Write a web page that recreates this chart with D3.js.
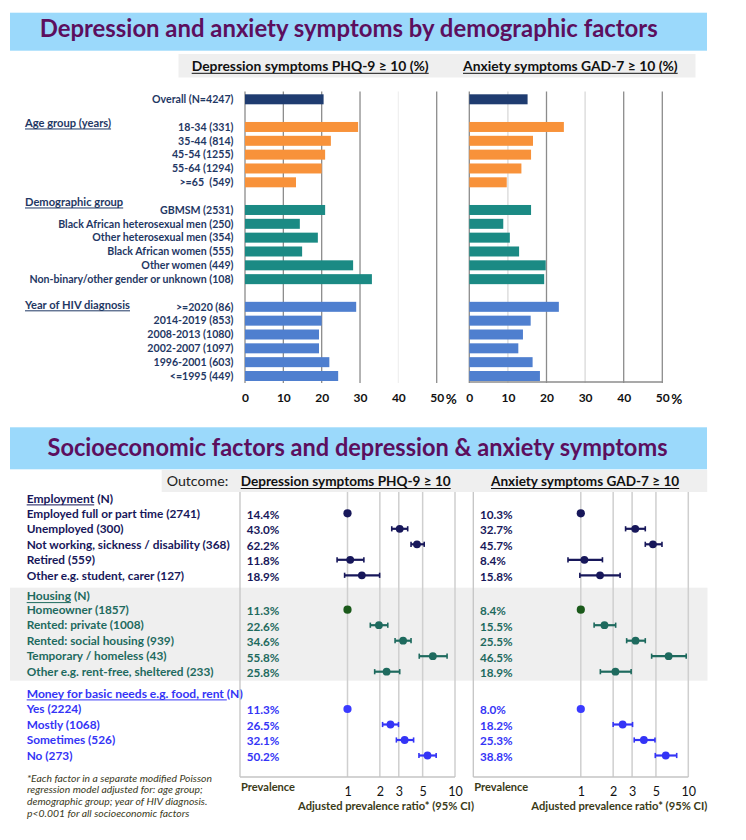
<!DOCTYPE html>
<html><head><meta charset="utf-8">
<script src="https://cdn.jsdelivr.net/npm/d3@7"></script>
<style>body{margin:0;background:#fff}svg{display:block}</style>
</head><body>
<svg id="c" width="746" height="840"></svg>
<script>
// ---------------- DATA ----------------
const barLabels = ["Overall (N=4247)","18-34 (331)","35-44 (814)","45-54 (1255)","55-64 (1294)",">=65  (549)",
  "GBMSM (2531)","Black African heterosexual men (250)","Other heterosexual men (354)","Black African women (555)","Other women (449)","Non-binary/other gender or unknown (108)",
  ">=2020 (86)","2014-2019 (853)","2008-2013 (1080)","2002-2007 (1097)","1996-2001 (603)","<=1995 (449)"];
const barGroup = ["Overall","Age","Age","Age","Age","Age","Demo","Demo","Demo","Demo","Demo","Demo","Year","Year","Year","Year","Year","Year"];
const depressionPct = [20.5,29.5,22.4,20.9,20.0,13.3,20.9,14.3,19.0,14.9,28.2,33.1,29.0,20.0,19.3,19.3,22.0,24.3];
const anxietyPct = [15.1,24.5,16.5,16.0,13.5,9.7,16.0,8.8,10.5,12.9,19.8,19.4,23.2,15.9,13.9,12.7,16.4,18.3];
const barGroupHeaders = ["Age group (years)","Demographic group","Year of HIV diagnosis"];
const barTicks = [0,10,20,30,40,50];

const forestLabels = ["Employed full or part time (2741)","Unemployed (300)","Not working, sickness / disability (368)","Retired (559)","Other e.g. student, carer (127)",
  "Homeowner (1857)","Rented: private (1008)","Rented: social housing (939)","Temporary / homeless (43)","Other e.g. rent-free, sheltered (233)",
  "Yes (2224)","Mostly (1068)","Sometimes (526)","No (273)"];
const forestGroup = ["Employment","Employment","Employment","Employment","Employment","Housing","Housing","Housing","Housing","Housing","Money","Money","Money","Money"];
const forestHeaders = [["Employment"," (N)"],["Housing"," (N)"],["Money for basic needs e.g. food, rent ","(N)"]];
const depPrevalence = [14.4,43.0,62.2,11.8,18.9,11.3,22.6,34.6,55.8,25.8,11.3,26.5,32.1,50.2];
const anxPrevalence = [10.3,32.7,45.7,8.4,15.8,8.4,15.5,25.5,46.5,18.9,8.0,18.2,25.3,38.8];
const depPR = [1,3.06,4.43,1.06,1.36,1,1.96,3.29,6.22,2.31,1,2.51,3.40,5.55];
const depLo = [null,2.58,3.90,0.80,0.94,null,1.63,2.77,4.65,1.79,null,2.12,2.85,4.62];
const depHi = [null,3.63,5.17,1.42,1.99,null,2.37,3.90,8.44,3.06,null,2.98,4.12,6.68];
const anxPR = [1,3.21,4.69,1.08,1.51,1,1.66,3.23,6.56,2.10,1,2.45,3.86,6.17];
const anxLo = [null,2.61,3.98,0.76,0.98,null,1.33,2.67,4.56,1.52,null,2.00,3.14,4.93];
const anxHi = [null,3.98,5.69,1.59,2.32,null,2.11,3.98,9.56,2.94,null,3.03,4.90,7.80];
const forestTicks = [1,2,3,5,10];
const footnote = ["*Each factor in a separate modified Poisson","regression model adjusted for: age group;","demographic group; year of HIV diagnosis.","p<0.001 for all socioeconomic factors"];

// ---------------- STYLE ----------------
const FONT = "Lato, 'Open Sans', sans-serif";
const svg = d3.select("#c").style("font-family", FONT);
const barColors = {Overall:"#1f3c70", Age:"#f8923a", Demo:"#1b8a84", Year:"#4f7fcf"};
const forestColors = {Employment:"#17175a", Housing:"#1e6a5e", Money:"#3434f6"};
const refColors = {Employment:"#17175a", Housing:"#1b5a1b", Money:"#3a3aff"};
const purple = "#5c0f5e", navy = "#1f3864", olive = "#3b3b18";

function styled(sel, st) {
  return sel.attr("font-size", st.size).attr("font-weight", st.weight || "normal")
    .attr("font-style", st.style || "normal").attr("font-family", FONT).style("white-space", "pre");
}
function kFor(st, sample, target) {
  const t = styled(svg.append("text").text(sample), st);
  const w = t.node().getComputedTextLength(); t.remove();
  return target / w;
}
function addText(g, x, y, str, st, k, fill, anchor) {
  const t = styled(g.append("text").attr("x", x).attr("y", y).text(str), st)
    .attr("fill", fill).attr("text-anchor", anchor || "start");
  const w0 = t.node().getComputedTextLength();
  const w = w0 * k;
  t.attr("textLength", w).attr("lengthAdjust", "spacingAndGlyphs");
  const x0 = anchor === "middle" ? x - w / 2 : anchor === "end" ? x - w : x;
  return {x0: x0, x1: x0 + w, node: t};
}
function underline(g, b, y, fill, w) {
  g.append("line").attr("x1", b.x0).attr("x2", b.x1).attr("y1", y).attr("y2", y)
    .attr("stroke", fill).attr("stroke-width", w || 1);
}

// text classes (size + width calibration to the reference)
const stTitle = {size: 24, weight: "bold"};
const kTitle1 = kFor(stTitle, "Depression and anxiety symptoms by demographic factors", 618);
const kTitle2 = kFor(stTitle, "Socioeconomic factors and depression & anxiety symptoms", 620);
const stHead = {size: 12.5, weight: "bold"};
const kHead = kFor(stHead, "Depression symptoms PHQ-9 \u2265 10 (%)", 237);
const kHead2 = kFor(stHead, "Depression symptoms PHQ-9 \u2265 10", 210);
const stOutcome = {size: 12.5};
const kOutcome = kFor(stOutcome, "Outcome:", 61.5);
const stBarLab = {size: 10.4, weight: "bold"};
const kBarLab = kFor(stBarLab, "Non-binary/other gender or unknown (108)", 204);
const stBarHdr = {size: 10.8, weight: "bold"};
const kBarHdr = kFor(stBarHdr, "Year of HIV diagnosis", 105);
const stFLab = {size: 11.8, weight: "bold"};
const kFLab = kFor(stFLab, "Not working, sickness / disability (368)", 203);
const kFHdr = kFor(stFLab, "Money for basic needs e.g. food, rent (N)", 216);
const stPrev = {size: 11.8, weight: "bold"};
const kPrev = kFor(stPrev, "14.4%", 32.7);
const stFoot = {size: 9.6, style: "italic"};
const kFoot = kFor(stFoot, footnote[0], 185);
const stAxT = {size: 11.6, weight: "bold"};
const kPrevTitle = kFor(stAxT, "Prevalence", 54);
const kAdj = kFor(stAxT, "Adjusted prevalence ratio* (95% CI)", 176);

// ---------------- TOP SECTION ----------------
svg.append("rect").attr("x",10).attr("y",12.7).attr("width",697).attr("height",38).attr("fill","#9bd9fb");
addText(svg, 348.7, 36.5, "Depression and anxiety symptoms by demographic factors", stTitle, kTitle1, purple, "middle");
svg.append("rect").attr("x",178.5).attr("y",54).attr("width",517).attr("height",23.5).attr("fill","#efefef");
let b = addText(svg, 191.7, 70.5, "Depression symptoms PHQ-9 \u2265 10 (%)", stHead, kHead, "#111");
underline(svg, b, 73.3, "#111");
b = addText(svg, 463, 70.5, "Anxiety symptoms GAD-7 \u2265 10 (%)", stHead, kHead, "#111");
underline(svg, b, 73.3, "#111");

// slots
const slots = []; let s = 0;
barGroup.forEach((gname, i) => { if (i > 0) s += (gname !== barGroup[i-1]) ? 2 : 1; slots.push(s); });
const yBar = d3.scaleLinear().domain([0, 20]).range([99.3, 376]);
const barH = 10;

// labels
const gl = svg.append("g");
barLabels.forEach((d, i) => addText(gl, 233.5, yBar(slots[i]) + 3.7, d, stBarLab, kBarLab, navy, "end"));
const hdrGroups = ["Age","Demo","Year"];
const hdrOffsets = [-4, -8, -2];
hdrGroups.forEach((gname, k) => {
  const first = barGroup.indexOf(gname);
  const yy = yBar(slots[first]) + hdrOffsets[k] + 3.7;
  const bb = addText(gl, 25, yy, barGroupHeaders[k], stBarHdr, kBarHdr, navy);
  underline(gl, bb, yy + 2.3, navy);
});

function barPanel(x0, x1, values, opts) {
  const x = d3.scaleLinear().domain([0, 50]).range([x0, x1]);
  const g = svg.append("g");
  barTicks.slice(1).forEach((t, k) => {
    g.append("line").attr("x1", x(t)).attr("x2", x(t)).attr("y1", 91.5).attr("y2", 383)
      .attr("stroke", opts.gridColor[k]).attr("stroke-width", 1.3);
  });
  g.append("line").attr("x1", x(0)).attr("x2", x(0)).attr("y1", 91.5).attr("y2", 383).attr("stroke", "#8c8c8c").attr("stroke-width", 1.3);
  if (opts.bottom) g.append("line").attr("x1", x(0)).attr("x2", x(50)).attr("y1", 382).attr("y2", 382).attr("stroke", "#8c8c8c").attr("stroke-width", 1.3);
  g.selectAll("rect.bar").data(values).join("rect").attr("class","bar")
    .attr("x", x(0)).attr("y", (d,i) => yBar(slots[i]) - barH/2)
    .attr("width", d => x(d) - x(0)).attr("height", barH)
    .attr("fill", (d,i) => barColors[barGroup[i]]);
  const ax = g.append("g").attr("transform", "translate(0,390.5)")
    .call(d3.axisBottom(x).tickValues(barTicks).tickSize(0).tickFormat(d3.format("d")));
  ax.select(".domain").remove();
  ax.selectAll("text").attr("font-size", 12).attr("font-weight", "bold").attr("fill", "#111").attr("font-family", FONT);
  g.append("text").attr("x", x(50) + 9).attr("y", 403.5).attr("font-size", 13.5).attr("font-weight","bold").attr("fill","#111").attr("font-family", FONT).text("%");
}
barPanel(245, 436.7, depressionPct, {gridColor:["#8c8c8c","#8c8c8c","#8c8c8c","#f0f0f0","#8c8c8c"], bottom:false});
barPanel(469.3, 662.3, anxietyPct, {gridColor:["#d9d9d9","#8c8c8c","#d9d9d9","#8c8c8c","#8c8c8c"], bottom:true});

// ---------------- BOTTOM SECTION ----------------
svg.append("rect").attr("x",10).attr("y",427.3).attr("width",697).attr("height",42).attr("fill","#9bd9fb");
addText(svg, 357.5, 456, "Socioeconomic factors and depression & anxiety symptoms", stTitle, kTitle2, purple, "middle");
svg.append("rect").attr("x",161.7).attr("y",470).attr("width",545.5).attr("height",22).attr("fill","#efefef");
addText(svg, 166.7, 485.7, "Outcome:", stOutcome, kOutcome, "#222");
b = addText(svg, 240.7, 485.7, "Depression symptoms PHQ-9 \u2265 10", stHead, kHead2, "#111");
underline(svg, b, 488.5, "#111");
b = addText(svg, 491, 485.7, "Anxiety symptoms GAD-7 \u2265 10", stHead, kHead2, "#111");
underline(svg, b, 488.5, "#111");

// row positions
const groupStartY = {Employment:513.3, Housing:609.7, Money:709};
const rowStep = 15.5;
const groupIdx = {};
const yF = forestGroup.map((gname) => { groupIdx[gname] = (groupIdx[gname] === undefined) ? 0 : groupIdx[gname] + 1; return groupStartY[gname] + groupIdx[gname]*rowStep; });
svg.append("rect").attr("x",10).attr("y",587.7).attr("width",697.5).attr("height",93).attr("fill","#efefef");

// left labels
const fl = svg.append("g");
forestLabels.forEach((d, i) => addText(fl, 26.7, yF[i] + 4.2, d, stFLab, kFLab, forestColors[forestGroup[i]]));
const hdrY = {Employment:498.3, Housing:596, Money:693.3};
["Employment","Housing","Money"].forEach((gname,k) => {
  const yy = hdrY[gname] + 4.2;
  const bb = addText(fl, 26.7, yy, forestHeaders[k][0], stFLab, kFHdr, forestColors[gname]);
  underline(fl, bb, yy + 2.4, forestColors[gname]);
  addText(fl, bb.x1, yy, forestHeaders[k][1], stFLab, kFHdr, forestColors[gname]);
});

// footnote
const gfoot = svg.append("g");
footnote.forEach((d, i) => addText(gfoot, 27, 781.5 + i*11.7, d, stFoot, kFoot, "#3a3a22"));

function forestPanel(x0, x1, prev, pr, lo, hi) {
  const x = d3.scaleLog().domain([0.1, 10]).range([x0, x1]);
  const g = svg.append("g");
  forestTicks.forEach(t => g.append("line").attr("x1",x(t)).attr("x2",x(t)).attr("y1",492).attr("y2",777)
    .attr("stroke","#cfcfcf").attr("stroke-width",1.5));
  g.append("line").attr("x1",x0).attr("x2",x0).attr("y1",492).attr("y2",777).attr("stroke","#c4c4c4").attr("stroke-width",1.3);
  g.append("line").attr("x1",x0).attr("x2",x1).attr("y1",777).attr("y2",777).attr("stroke","#c4c4c4").attr("stroke-width",1.3);
  prev.forEach((d, i) => addText(g, x0 + 6.7, yF[i] + 5.4, d.toFixed(1) + "%", stPrev, kPrev, forestColors[forestGroup[i]]));
  pr.forEach((v,i) => {
    const c = forestColors[forestGroup[i]];
    if (lo[i] != null) {
      g.append("line").attr("x1",x(lo[i])).attr("x2",x(hi[i])).attr("y1",yF[i]).attr("y2",yF[i]).attr("stroke",c).attr("stroke-width",2.2);
      [lo[i],hi[i]].forEach(e => g.append("line").attr("x1",x(e)).attr("x2",x(e)).attr("y1",yF[i]-2.6).attr("y2",yF[i]+2.6).attr("stroke",c).attr("stroke-width",1.6));
      g.append("circle").attr("cx",x(v)).attr("cy",yF[i]).attr("r",3.9).attr("fill",c);
    } else {
      g.append("circle").attr("cx",x(v)).attr("cy",yF[i]).attr("r",4.1).attr("fill",refColors[forestGroup[i]]);
    }
  });
  const ax = g.append("g").attr("transform","translate(0,784)")
    .call(d3.axisBottom(x).tickValues(forestTicks).tickSize(0).tickFormat(d3.format("d")));
  ax.select(".domain").remove();
  ax.selectAll("text").attr("font-size",12.5).attr("fill","#111").attr("font-family",FONT);
  addText(g, x0 + 1, 791, "Prevalence", stAxT, kPrevTitle, olive);
  addText(g, x1 + 19, 810, "Adjusted prevalence ratio* (95% CI)", stAxT, kAdj, olive, "end");
}
forestPanel(240, 455, depPrevalence, depPR, depLo, depHi);
forestPanel(473.3, 688.3, anxPrevalence, anxPR, anxLo, anxHi);
</script>
</body></html>
